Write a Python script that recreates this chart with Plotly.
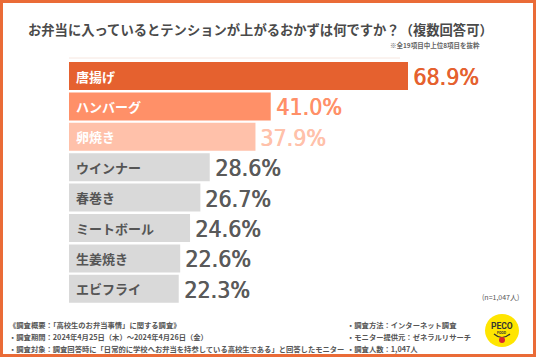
import plotly.graph_objects as go

categories = ["唐揚げ", "ハンバーグ", "卵焼き", "ウインナー", "春巻き", "ミートボール", "生姜焼き", "エビフライ"]
values = [68.9, 41.0, 37.9, 28.6, 26.7, 24.6, 22.6, 22.3]
bar_colors = ["#E5612F", "#FF9068", "#FFC1AA", "#D9D9D9", "#D9D9D9", "#D9D9D9", "#D9D9D9", "#D9D9D9"]
label_colors = ["#FFFFFF", "#FFFFFF", "#FFFFFF", "#555555", "#555555", "#555555", "#555555", "#555555"]
pct_colors = ["#E5612F", "#FF9068", "#FFC1AA", "#5A5A5A", "#5A5A5A", "#5A5A5A", "#5A5A5A", "#5A5A5A"]

W, H = 536, 357
x0_px, x1_px = 69, 536
px_per_pct = (408 - 69) / 68.9
xmax = (x1_px - x0_px) / px_per_pct
y_top, y_bot = 60, 304

fig = go.Figure()
fig.add_trace(go.Bar(
    x=values, y=categories, orientation="h",
    marker=dict(color=bar_colors, line=dict(width=0)),
    width=0.92, hoverinfo="skip"
))

annotations = []
for c, v, lc, pc in zip(categories, values, label_colors, pct_colors):
    annotations.append(dict(x=0, y=c, xref="x", yref="y", text=f"<b>{c}</b>", showarrow=False,
                            xanchor="left", xshift=5, font=dict(size=13, color=lc,
                            family="Noto Sans CJK JP")))
    annotations.append(dict(x=v, y=c, xref="x", yref="y", text=f"{v:.1f}%", showarrow=False,
                            xanchor="left", xshift=3, yshift=-1,
                            font=dict(size=23, color=pc, shadow=f"0.7px 0 0 {pc}",
                                      family="DejaVu Sans Condensed, Liberation Sans Narrow, Roboto, sans-serif")))

FJ = "Noto Sans CJK JP"
def pa(x, y, text, size, color="#4A4A4A", xanchor="left", bold=False):
    annotations.append(dict(x=x / W, y=1 - y / H, xref="paper", yref="paper",
                            text=(f"<b>{text}</b>" if bold else text), showarrow=False,
                            xanchor=xanchor, yanchor="middle",
                            font=dict(size=size, color=color, family=FJ)))

pa(260, 29, "お弁当に入っているとテンションが上がるおかずは何ですか？（複数回答可）", 13.3, "#4A4A4A", "center", True)
pa(482, 45, "※全19項目中上位8項目を抜粋", 6.5, "#666666", "right", True)
pa(521, 297, "(n=1,047人)", 7, "#555555", "right")

fs = 7.3
pa(7, 325, "《調査概要：「高校生のお弁当事情」に関する調査》", fs, "#555555", "left", True)
pa(7, 337, "・調査期間：2024年4月25日（木）～2024年4月26日（金）", fs, "#555555", "left", True)
pa(7, 349, "・調査対象：調査回答時に「日常的に学校へお弁当を持参している高校生である」と回答したモニター", fs, "#555555", "left", True)
pa(345, 325, "・調査方法：インターネット調査", fs, "#555555", "left", True)
pa(345, 337, "・モニター提供元：ゼネラルリサーチ", fs, "#555555", "left", True)
pa(345, 349, "・調査人数：1,047人", fs, "#555555", "left", True)

annotations.append(dict(x=502 / W, y=1 - 326 / H, xref="paper", yref="paper", text="<b>PECO</b>",
                        showarrow=False, xanchor="center", yanchor="middle",
                        font=dict(size=8.5, color="#333333", family="Roboto")))
annotations.append(dict(x=502 / W, y=1 - 333 / H, xref="paper", yref="paper", text="<b>FOOD</b>",
                        showarrow=False, xanchor="center", yanchor="middle",
                        font=dict(size=3.5, color="#333333", family="Roboto")))

shapes = [
    dict(type="rect", xref="paper", yref="paper", x0=1.5 / W, x1=1 - 1.5 / W, y0=1.5 / H, y1=1 - 1.5 / H,
         line=dict(color="#EA6B37", width=3), fillcolor="rgba(0,0,0,0)"),
    dict(type="line", xref="paper", yref="paper", x0=69 / W, x1=400 / W, y0=1 - 58 / H, y1=1 - 58 / H,
         line=dict(color="#F6E6DF", width=1)),
    dict(type="circle", xref="paper", yref="paper", x0=485 / W, x1=519 / W, y0=1 - 347 / H, y1=1 - 314 / H,
         line=dict(width=0), fillcolor="#FFE500", layer="below"),
    dict(type="path", xref="paper", yref="paper",
         path=f"M {494/W},{1-334/H} Q {502/W},{1-341/H} {510/W},{1-334/H}",
         line=dict(color="#333333", width=1.2), layer="below"),
    dict(type="circle", xref="paper", yref="paper", x0=499 / W, x1=505 / W, y0=1 - 343 / H, y1=1 - 337 / H,
         line=dict(width=0), fillcolor="#D9262A", layer="below"),
]

fig.update_layout(
    width=W, height=H, margin=dict(l=0, r=0, t=0, b=0),
    paper_bgcolor="white", plot_bgcolor="rgba(0,0,0,0)", showlegend=False,
    xaxis=dict(domain=[x0_px / W, x1_px / W], range=[0, xmax], visible=False, fixedrange=True),
    yaxis=dict(domain=[1 - y_bot / H, 1 - y_top / H], autorange="reversed", visible=False,
               categoryorder="array", categoryarray=categories, fixedrange=True),
    bargap=0.08, annotations=annotations, shapes=shapes,
)

fig.write_html("out.html", config={"displayModeBar": False},
               post_script="document.body.style.margin='0';document.body.style.overflow='hidden';")
